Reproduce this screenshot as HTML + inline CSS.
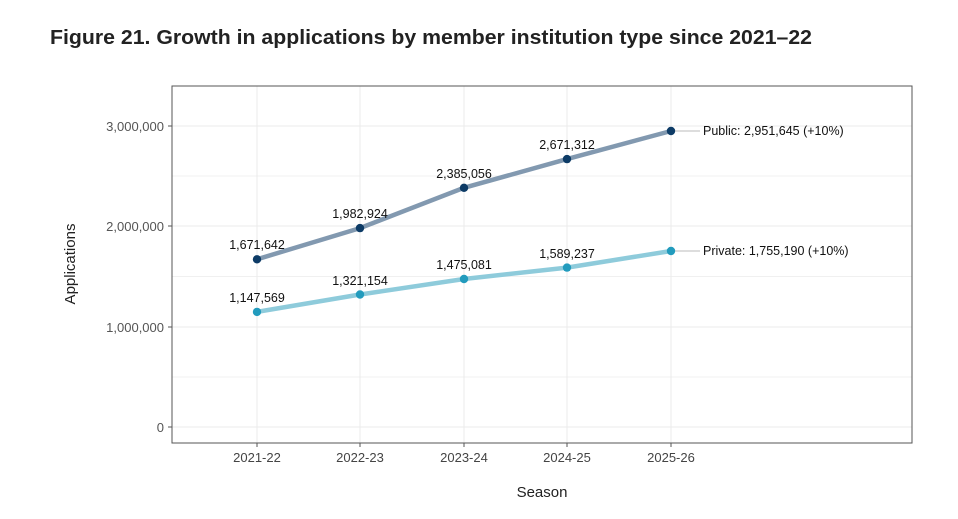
<!DOCTYPE html><html><head><style>body{margin:0;background:#fff}</style></head><body>
<svg width="958" height="514" xmlns="http://www.w3.org/2000/svg" font-family="Liberation Sans, sans-serif">
<text x="50" y="44" font-size="20" font-weight="bold" fill="#222" textLength="762" lengthAdjust="spacingAndGlyphs">Figure 21. Growth in applications by member institution type since 2021–22</text>
<g stroke="#ebebeb" stroke-width="1">
<line x1="172" x2="912" y1="377" y2="377" stroke-width="0.7"/><line x1="172" x2="912" y1="276.5" y2="276.5" stroke-width="0.7"/><line x1="172" x2="912" y1="176" y2="176" stroke-width="0.7"/>
<line x1="172" x2="912" y1="427" y2="427"/><line x1="172" x2="912" y1="327" y2="327"/><line x1="172" x2="912" y1="226" y2="226"/><line x1="172" x2="912" y1="126" y2="126"/>
<line x1="257" x2="257" y1="86" y2="443"/><line x1="360" x2="360" y1="86" y2="443"/><line x1="464" x2="464" y1="86" y2="443"/><line x1="567" x2="567" y1="86" y2="443"/><line x1="671" x2="671" y1="86" y2="443"/>
</g>
<rect x="172" y="86" width="740" height="357" fill="none" stroke="#555" stroke-width="1"/>
<g stroke="#555"><line x1="168" x2="172" y1="427" y2="427"/><line x1="168" x2="172" y1="327" y2="327"/><line x1="168" x2="172" y1="226" y2="226"/><line x1="168" x2="172" y1="126" y2="126"/>
<line x1="257" x2="257" y1="443" y2="447"/><line x1="360" x2="360" y1="443" y2="447"/><line x1="464" x2="464" y1="443" y2="447"/><line x1="567" x2="567" y1="443" y2="447"/><line x1="671" x2="671" y1="443" y2="447"/></g>
<g font-size="13" fill="#555" text-anchor="end"><text x="164" y="432">0</text><text x="164" y="332">1,000,000</text><text x="164" y="231">2,000,000</text><text x="164" y="131">3,000,000</text></g>
<g font-size="13" fill="#444" text-anchor="middle"><text x="257" y="462">2021-22</text><text x="360" y="462">2022-23</text><text x="464" y="462">2023-24</text><text x="567" y="462">2024-25</text><text x="671" y="462">2025-26</text></g>
<text x="542" y="497" font-size="15" fill="#222" text-anchor="middle">Season</text>
<text transform="translate(75,264) rotate(-90)" font-size="15" fill="#222" text-anchor="middle">Applications</text>
<line x1="675" x2="700" y1="131" y2="131" stroke="#bbb"/><line x1="675" x2="700" y1="251" y2="251" stroke="#bbb"/>
<polyline points="257,259.3 360,228.1 464,187.8 567,159.1 671,131" fill="none" stroke="#8299b0" stroke-width="4.5"/>
<polyline points="257,311.9 360,294.5 464,279 567,267.6 671,251" fill="none" stroke="#8ecbdb" stroke-width="4.5"/>
<g fill="#0d3b66"><circle cx="257" cy="259.3" r="4.2"/><circle cx="360" cy="228.1" r="4.2"/><circle cx="464" cy="187.8" r="4.2"/><circle cx="567" cy="159.1" r="4.2"/><circle cx="671" cy="131" r="4.2"/></g>
<g fill="#229bbd"><circle cx="257" cy="311.9" r="4.2"/><circle cx="360" cy="294.5" r="4.2"/><circle cx="464" cy="279" r="4.2"/><circle cx="567" cy="267.6" r="4.2"/><circle cx="671" cy="251" r="4.2"/></g>
<g font-size="12.5" fill="#111" text-anchor="middle">
<text x="257" y="249">1,671,642</text><text x="360" y="218">1,982,924</text><text x="464" y="178">2,385,056</text><text x="567" y="149">2,671,312</text>
<text x="257" y="302">1,147,569</text><text x="360" y="285">1,321,154</text><text x="464" y="269">1,475,081</text><text x="567" y="258">1,589,237</text>
</g>
<g font-size="12.5" fill="#111"><text x="703" y="135">Public: 2,951,645 (+10%)</text><text x="703" y="255">Private: 1,755,190 (+10%)</text></g>
</svg></body></html>
